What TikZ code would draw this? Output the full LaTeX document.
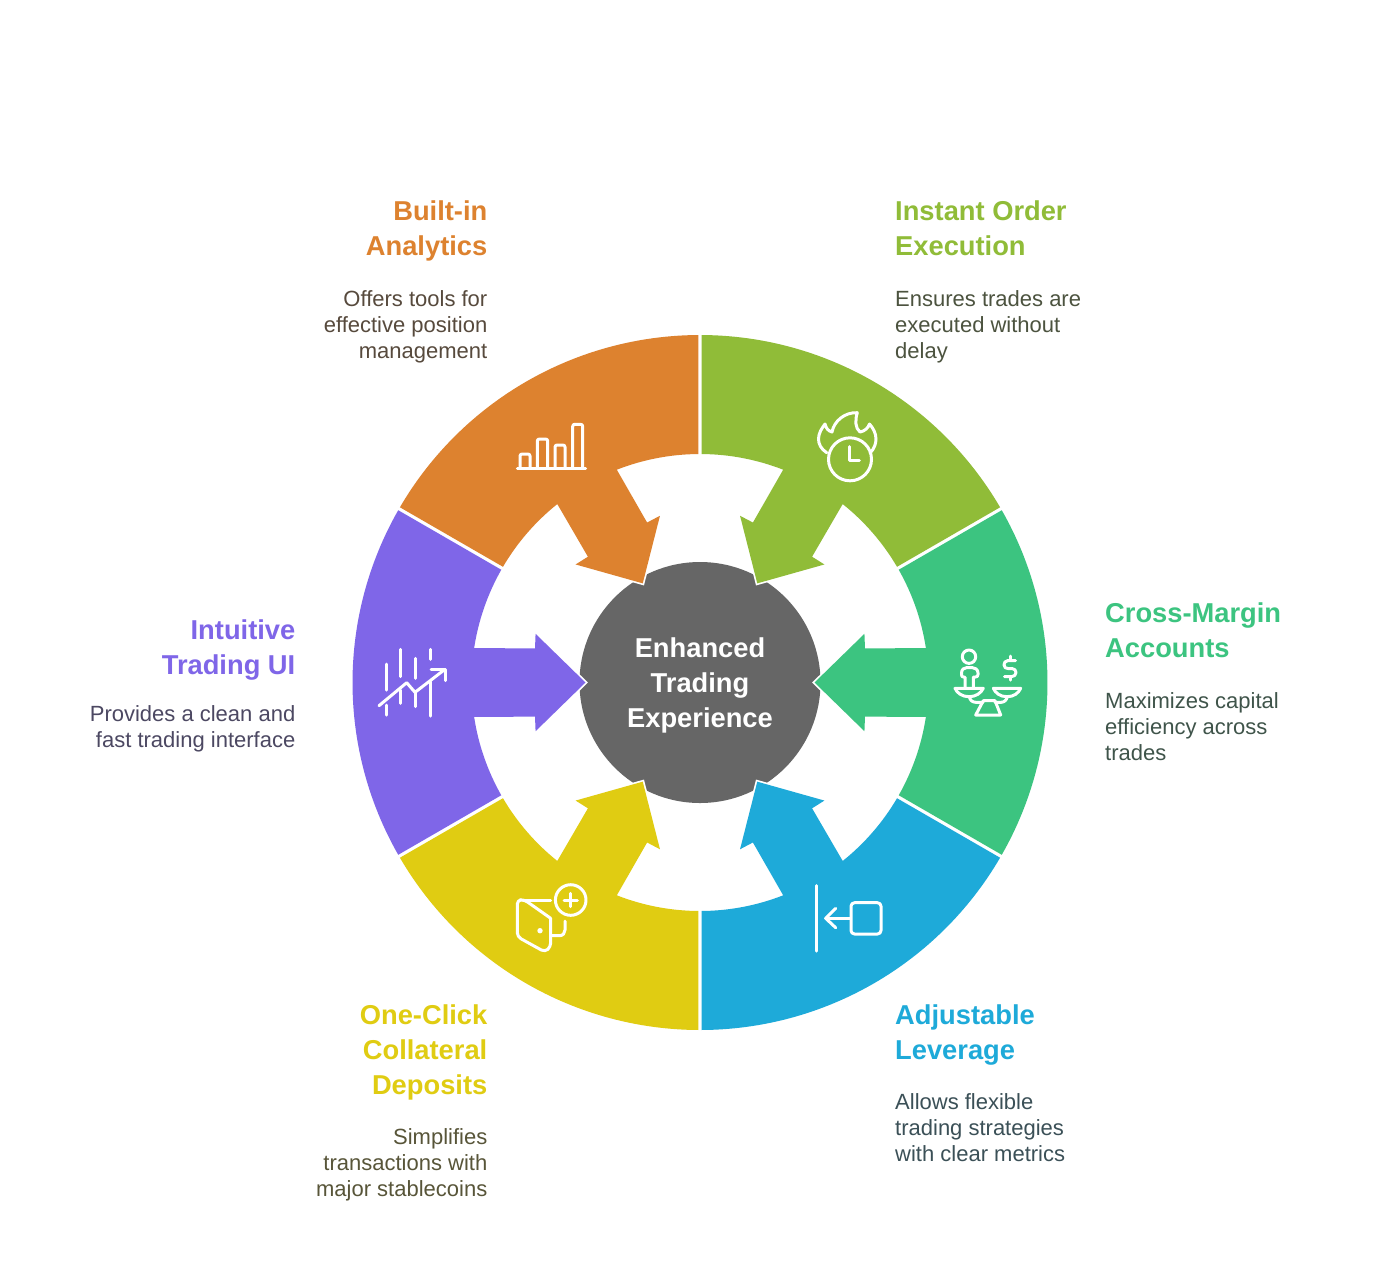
\documentclass[tikz,border=0pt]{standalone}
\usepackage{fontspec}
\setmainfont{Liberation Sans}
\definecolor{cgreen}{HTML}{90BC38}
\definecolor{cteal}{HTML}{3CC480}
\definecolor{cblue}{HTML}{1EAAD9}
\definecolor{cyellow}{HTML}{E0CC12}
\definecolor{cpurple}{HTML}{7F66E8}
\definecolor{corange}{HTML}{DD822F}
\definecolor{cgray}{HTML}{666666}
\definecolor{cbase}{HTML}{404040}
\newcommand{\wedgearrow}[2]{%
  \begin{scope}[shift={(700,-682.5)},rotate=#1]
    \fill[#2,preaction={draw=white,line width=3.4pt,line join=miter}]
      (29.72:347.5) arc[start angle=29.72,end angle=-29.72,radius=347.5pt]
      -- (-29.57:228.5) arc[start angle=-29.57,end angle=-8.65,radius=228.5pt]
      -- (-11.7:168.5) -- (-16.5:171.5) -- (0:114.5) -- (16.5:171.5) -- (11.7:168.5)
      -- (8.65:228.5) arc[start angle=8.65,end angle=29.57,radius=228.5pt] -- cycle;
  \end{scope}}
\tikzset{
  x=1pt,y=1pt,
  titleL/.style={anchor=base west,align=left,inner sep=0pt,font=\fontsize{27.3}{35}\selectfont\bfseries},
  titleR/.style={anchor=base east,align=right,inner sep=0pt,font=\fontsize{27.3}{35}\selectfont\bfseries},
  bodyL/.style={anchor=base west,align=left,inner sep=0pt,font=\fontsize{22}{26}\selectfont},
  bodyR/.style={anchor=base east,align=right,inner sep=0pt,font=\fontsize{22}{26}\selectfont},
  icon/.style={draw=white,line width=3pt,line cap=round,line join=round}
}
\begin{document}
\begin{tikzpicture}
\useasboundingbox (0,0) rectangle (1400,-1278);
\fill[white] (0,0) rectangle (1400,-1278);
\node[circle,fill=cgray,minimum size=241pt,inner sep=0pt] (hub) at (700,-682.5) {};
\wedgearrow{60}{cgreen}
\wedgearrow{0}{cteal}
\wedgearrow{-60}{cblue}
\wedgearrow{-120}{cyellow}
\wedgearrow{180}{cpurple}
\wedgearrow{120}{corange}
\node[align=center,inner sep=0pt,text=white,anchor=base,font=\fontsize{27.3}{35}\selectfont\bfseries] (hubtext) at (700,-727) {Enhanced\\Trading\\Experience};
% texts
\node[titleR,text=corange] (t1) at (487.5,-255.5) {Built-in\\Analytics};
\node[bodyR,text=corange!15!cbase] (b1) at (487.5,-358) {Offers tools for\\effective position\\management};
\node[titleL,text=cgreen] (t2) at (895,-255.5) {Instant Order\\Execution};
\node[bodyL,text=cgreen!15!cbase] (b2) at (895,-358) {Ensures trades are\\executed without\\delay};
\node[titleL,text=cteal] (t3) at (1105,-657.5) {Cross-Margin\\Accounts};
\node[bodyL,text=cteal!15!cbase] (b3) at (1105,-760) {Maximizes capital\\efficiency across\\trades};
\node[titleR,text=cpurple] (t4) at (295.5,-674.5) {Intuitive\\Trading UI};
\node[bodyR,text=cpurple!20!cbase] (b4) at (295.5,-747) {Provides a clean and\\fast trading interface};
\node[titleL,text=cblue] (t5) at (895,-1059.5) {Adjustable\\Leverage};
\node[bodyL,text=cblue!15!cbase] (b5) at (895,-1161) {Allows flexible\\trading strategies\\with clear metrics};
\node[titleR,text=cyellow] (t6) at (487.5,-1094.5) {One-Click\\Collateral\\Deposits};
\node[bodyR,text=cyellow!15!cbase] (b6) at (487.5,-1196) {Simplifies\\transactions with\\major stablecoins};
% icons
\begin{scope}[yscale=-1]
  % clock and flame
  \draw[icon] (850,459.3) circle[radius=21.5pt];
  \draw[icon] (849,446.7) -- (849,460.7) -- (859.3,460.7);
  \draw[icon] (826.7,452.7) .. controls (821,449) and (818.5,444) .. (818.5,439)
    .. controls (818.5,433) and (822,428) .. (825,424)
    .. controls (826,428) and (828,431) .. (832,432)
    .. controls (834,421) and (845,412) .. (857.3,412.7)
    .. controls (855,420) and (855,428) .. (860,432)
    .. controls (865,431) and (868,428) .. (869.5,424)
    .. controls (873,428) and (876,433) .. (876,439)
    .. controls (876,444) and (874,449) .. (870,453);
  % scale
  \draw[icon] (969,656.7) circle[radius=6.7pt];
  \draw[icon] (965,688) -- (965,677) -- (963.5,677) .. controls (962,677) and (961.5,676) .. (961.5,674.5)
    -- (961.5,673) .. controls (961.5,669.5) and (964,667.5) .. (967,667.5) -- (972,667.5)
    .. controls (975,667.5) and (978,669.5) .. (978,673) -- (978,674.5)
    .. controls (978,676) and (977,677) .. (975.5,677) -- (973.3,677) -- (973.3,688);
  \draw[icon] (955,688.3) -- (983.3,688.3) .. controls (981,693) and (976,696.7) .. (969,696.7)
    .. controls (962,696.7) and (957,693) .. (955,688.3) -- cycle;
  \draw[icon] (993.3,688.3) -- (1020.7,688.3) .. controls (1018.5,693) and (1014,696.7) .. (1007,696.7)
    .. controls (1000,696.7) and (995.5,693) .. (993.3,688.3) -- cycle;
  \draw[icon] (983.3,700.7) -- (995,700.7) -- (1000.7,715) -- (975.7,715) -- cycle;
  \draw[icon] (969.3,696.7) .. controls (970,700) and (972,702.3) .. (976,702.3) -- (983,702.3);
  \draw[icon] (1007.3,696.7) .. controls (1006.5,700) and (1004.5,702.3) .. (1001,702.3) -- (995,702.3);
  \draw[icon] (1015.5,660.5) -- (1008,660.5) .. controls (1005,660.5) and (1004,663) .. (1004,665)
    .. controls (1004,667.5) and (1006,668.5) .. (1008,668.5) -- (1012,668.5)
    .. controls (1014.5,668.5) and (1016,670.5) .. (1016,672.5)
    .. controls (1016,675) and (1014,676.5) .. (1012,676.5) -- (1004.5,676.5);
  \draw[icon] (1010,656) -- (1010,660) (1010,677) -- (1010,680);
  % leverage
  \draw[icon] (816.7,885.7) -- (816.7,951);
  \draw[icon] (850,918.3) -- (825.7,918.3);
  \draw[icon] (835.7,908.3) -- (825.7,918.3) -- (835.7,927.7);
  \draw[icon,rounded corners=3.5pt] (851,902.7) rectangle (881,934);
  % door
  \draw[icon,rounded corners=4pt] (550.7,918.3) -- (550.7,946.7) -- (545,952) -- (525,941) -- (517.3,936.7) -- (517.3,900) -- (524,899.5) -- (550.7,918.3);
  \draw[icon] (523,900) -- (550.7,900);
  \draw[icon] (570.7,900) circle[radius=15.3pt];
  \draw[icon] (564,900) -- (577.3,900) (570.7,893.3) -- (570.7,906.7);
  \draw[icon] (550.7,935.7) -- (559.3,935.7) .. controls (563,935.7) and (565,933) .. (565,930) -- (565,921);
  \fill[white] (540,930.7) circle[radius=2.7pt];
  % chart
  \draw[icon] (386.7,664) -- (386.7,690) (386.7,705) -- (386.7,715);
  \draw[icon] (400.7,649.3) -- (400.7,676.7) (400.7,690) -- (400.7,703.3);
  \draw[icon] (415.7,658.3) -- (415.7,678.3) (415.7,692.7) -- (415.7,706.7);
  \draw[icon] (430,649.3) -- (430,659.3) (430,681.7) -- (430,716);
  \draw[icon] (379,705.7) -- (406.7,682.7) -- (415,692.3) -- (445,669.3);
  \draw[icon] (431,669.3) -- (445,669.3) -- (445,680.7);
  % bars
  \draw[icon] (517.3,468.3) -- (585.7,468.3);
  \draw[icon] (520,468.3) -- (520,456) .. controls (520,454.5) and (521,454) .. (522.5,454) -- (527.5,454) .. controls (529,454) and (530,454.5) .. (530,456) -- (530,468.3);
  \draw[icon] (537.3,468.3) -- (537.3,441) .. controls (537.3,439.5) and (538.3,439) .. (539.8,439) -- (545.2,439) .. controls (546.7,439) and (547.7,439.5) .. (547.7,441) -- (547.7,468.3);
  \draw[icon] (555,468.3) -- (555,447) .. controls (555,445.5) and (556,445) .. (557.5,445) -- (562.5,445) .. controls (564,445) and (565,445.5) .. (565,447) -- (565,468.3);
  \draw[icon] (572.7,468.3) -- (572.7,426.3) .. controls (572.7,424.8) and (573.7,424.3) .. (575.2,424.3) -- (580.2,424.3) .. controls (581.7,424.3) and (582.7,424.8) .. (582.7,426.3) -- (582.7,468.3);
\end{scope}
\end{tikzpicture}
\end{document}
